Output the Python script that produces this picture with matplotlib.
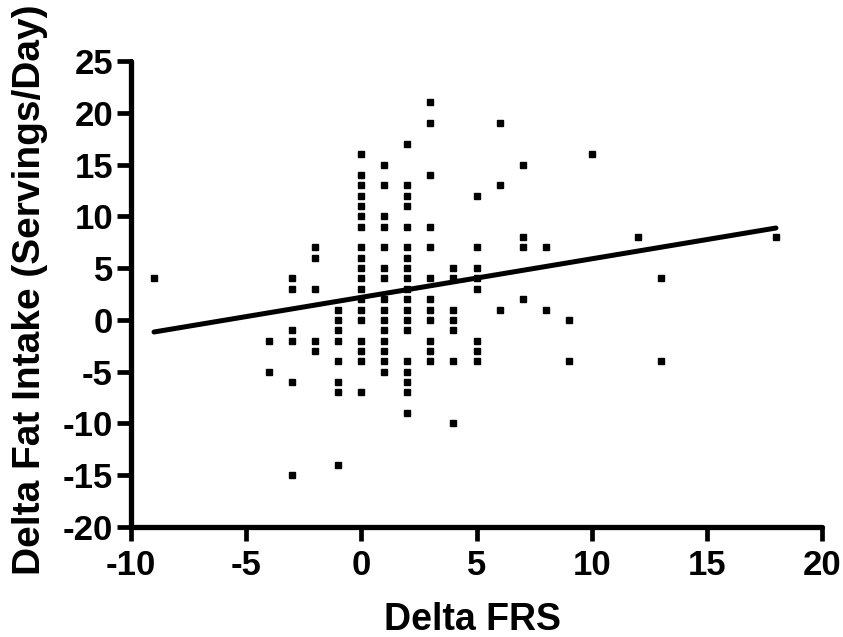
import matplotlib
matplotlib.use("Agg")
import matplotlib.pyplot as plt
import numpy as np

plt.rcParams['font.family'] = ['Liberation Sans', 'DejaVu Sans']
plt.rcParams['font.weight'] = 'bold'
plt.rcParams['axes.unicode_minus'] = False

# Delta FRS columns and the Delta Fat Intake values seen in each column
frs_levels = [-9, -4, -3, -2, -1, 0, 1, 2, 3, 4, 5, 6, 7, 8, 9, 10, 12, 13, 18]
fat_by_level = [
    [4],
    [-2, -5],
    [4, 3, -1, -2, -6, -15],
    [7, 6, 3, -2, -3],
    [1, 0, -1, -2, -4, -6, -7, -14],
    [16, 14, 13, 12, 11, 10, 9, 7, 6, 5, 4, 3, 2, 1, 0, -2, -3, -4, -7],
    [15, 13, 10, 9, 7, 5, 4, 2, 1, 0, -1, -2, -3, -4, -5],
    [17, 13, 12, 11, 9, 7, 6, 5, 4, 3, 2, 1, 0, -1, -4, -5, -6, -7, -9],
    [21, 19, 14, 9, 7, 4, 2, 1, 0, -2, -3, -4],
    [5, 4, 1, 0, -1, -4, -10],
    [12, 7, 5, 4, 3, -2, -3, -4],
    [19, 13, 1],
    [15, 8, 7, 2],
    [7, 1],
    [0, -4],
    [16],
    [8],
    [4, -4],
    [8],
]

x_ticks = [-10, -5, 0, 5, 10, 15, 20]
y_ticks = [-20, -15, -10, -5, 0, 5, 10, 15, 20, 25]

delta_frs = []
delta_fat = []
for lvl, vals in zip(frs_levels, fat_by_level):
    delta_frs += [lvl] * len(vals)
    delta_fat += vals
delta_frs = np.array(delta_frs, dtype=float)
delta_fat = np.array(delta_fat, dtype=float)

fig = plt.figure(figsize=(8.43, 6.37), dpi=100)
ax = fig.add_axes([131 / 843, 1 - 527 / 637, 691 / 843, 466 / 637])

ax.plot(delta_frs, delta_fat, 's', color='black', markersize=3.8, clip_on=False)

slope, intercept = np.polyfit(delta_frs, delta_fat, 1)
xl = np.array([delta_frs.min(), delta_frs.max()])
ax.plot(xl, slope * xl + intercept, color='black', lw=3.6, solid_capstyle='round')

ax.set_xlim(-10, 20)
ax.set_ylim(-20, 25)
ax.set_xticks(x_ticks)
ax.set_yticks(y_ticks)

for s in ['top', 'right']:
    ax.spines[s].set_visible(False)
for s in ['left', 'bottom']:
    ax.spines[s].set_linewidth(3.8)
    ax.spines[s].set_capstyle('round')

ax.tick_params(axis='both', direction='out', length=10, width=3.4, labelsize=25)
ax.tick_params(axis='y', pad=3)
ax.tick_params(axis='x', pad=6)
for lab in ax.get_xticklabels() + ax.get_yticklabels():
    lab.set_fontweight('bold')

fig.text(473 / 843, 1 - 630 / 637, 'Delta FRS', ha='center', va='baseline',
         fontsize=27, fontweight='bold')
fig.text(30 / 843, 1 - 290 / 637, 'Delta Fat Intake (Servings/Day)', rotation=90,
         ha='center', va='center', fontsize=28, fontweight='bold')

fig.savefig('out.png', dpi=100)
